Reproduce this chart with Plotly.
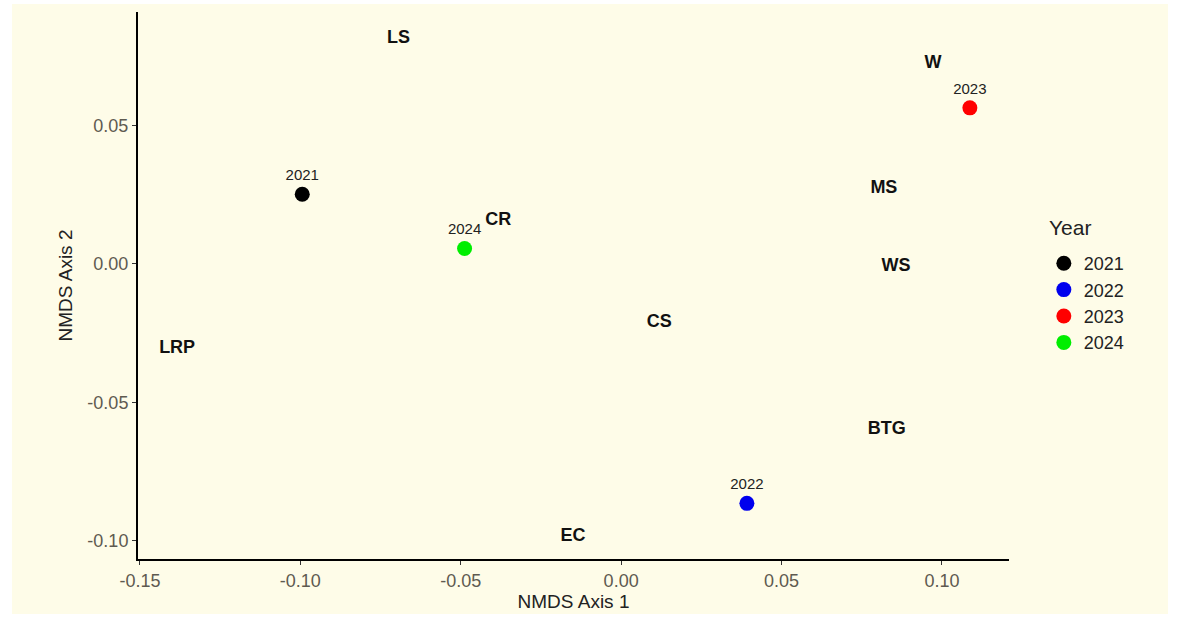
import plotly.graph_objects as go

# NMDS site scores (one point per survey year)
years = ["2021", "2022", "2023", "2024"]
year_x = [-0.0994, 0.0392, 0.1087, -0.0488]
year_y = [0.0251, -0.0865, 0.0563, 0.0055]
year_colors = ["#000000", "#0000EE", "#FF0000", "#00EE00"]

# NMDS species / habitat scores
species = ["LS", "W", "MS", "CR", "WS", "CS", "LRP", "BTG", "EC"]
species_x = [-0.0694, 0.0972, 0.0819, -0.0383, 0.0857, 0.0119, -0.1384, 0.0828, -0.0150]
species_y = [0.0815, 0.0724, 0.0272, 0.0157, -0.0009, -0.0213, -0.0306, -0.0598, -0.0986]

# Axis ticks
x_ticks = [-0.15, -0.10, -0.05, 0.00, 0.05, 0.10]
x_tick_text = ["-0.15", "-0.10", "-0.05", "0.00", "0.05", "0.10"]
y_ticks = [-0.10, -0.05, 0.00, 0.05]
y_tick_text = ["-0.10", "-0.05", "0.00", "0.05"]

W, H = 1177, 619
ML, MR, MT, MB = 138, 168, 12, 60
pw, ph = W - ML - MR, H - MT - MB
cream = "#FEFCE8"
font_family = "Liberation Sans, Arial, sans-serif"

fig = go.Figure()

for yr, xv, yv, col in zip(years, year_x, year_y, year_colors):
    fig.add_trace(go.Scatter(
        x=[xv], y=[yv], mode="markers+text", name=yr,
        text=[yr], textposition="top center",
        textfont=dict(size=15, color="#222222", family=font_family),
        marker=dict(size=15, color=col),
    ))

fig.add_trace(go.Scatter(
    x=species_x, y=species_y, mode="text", text=species,
    textfont=dict(size=18, color="#111111", family=font_family, weight="bold"),
    showlegend=False, hoverinfo="text",
))

# cream panel behind the whole chart, leaving a thin white edge
fig.add_shape(
    type="rect", xref="paper", yref="paper", layer="below",
    x0=(12 - ML) / pw, x1=(1168 - ML) / pw,
    y0=(MT + ph - 614) / ph, y1=(MT + ph - 4) / ph,
    fillcolor=cream, line=dict(width=0),
)

# legend heading
fig.add_annotation(
    text="Year", xref="paper", yref="paper",
    x=(1047 - ML) / pw, y=(MT + ph - 227) / ph,
    xanchor="left", yanchor="middle", showarrow=False,
    font=dict(size=21, color="#222222", family=font_family),
)

axis_common = dict(
    showgrid=False, zeroline=False, showline=True, linecolor="#000000", linewidth=2,
    ticks="outside", ticklen=4, tickwidth=1, tickcolor="#333333",
    tickfont=dict(size=18, color="#5E5A50", family=font_family),
    title_font=dict(size=19, color="#222222", family=font_family),
)

fig.update_layout(
    width=W, height=H,
    margin=dict(l=ML, r=MR, t=MT, b=MB),
    paper_bgcolor="#FFFFFF", plot_bgcolor=cream,
    font=dict(family=font_family),
    xaxis=dict(range=[-0.1506, 0.1209], tickvals=x_ticks, ticktext=x_tick_text,
               title=dict(text="NMDS Axis 1", standoff=4), **axis_common),
    yaxis=dict(range=[-0.1066, 0.0909], tickvals=y_ticks, ticktext=y_tick_text,
               title=dict(text="NMDS Axis 2", standoff=10), **axis_common),
    legend=dict(
        font=dict(size=18, color="#222222", family=font_family),
        x=1.040, y=0.574, xanchor="left", yanchor="top",
        bgcolor="rgba(0,0,0,0)", tracegroupgap=0,
    ),
    showlegend=True,
)

fig.write_html("out.html")
